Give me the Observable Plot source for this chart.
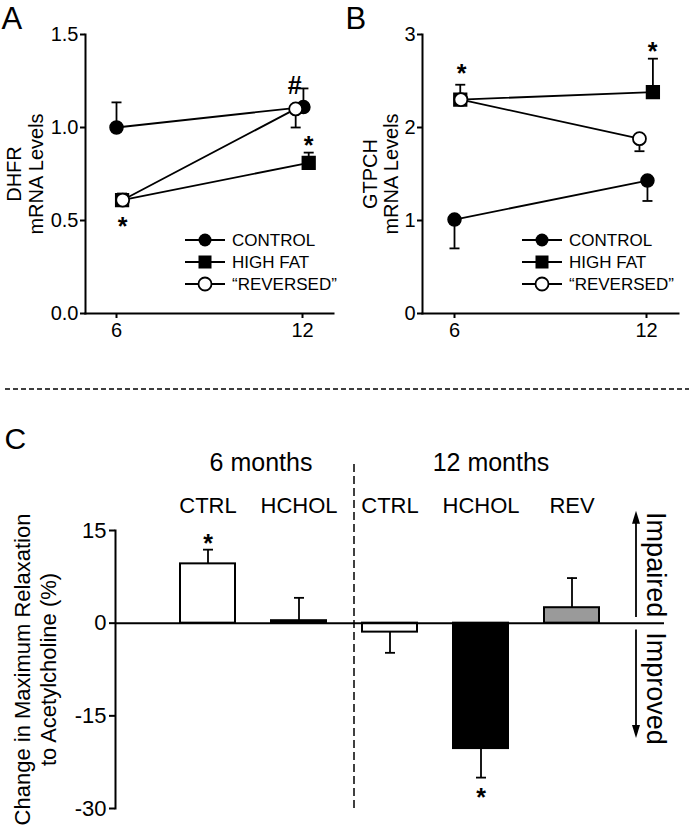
<!DOCTYPE html>
<html>
<head>
<meta charset="utf-8">
<script src="https://cdn.jsdelivr.net/npm/d3@7"></script>
<script src="https://cdn.jsdelivr.net/npm/@observablehq/plot@0.6"></script>
<style>
  body { margin: 0; background: #fff; }
  #fig { position: relative; width: 689px; height: 831px; overflow: hidden; background: #fff;
         font-family: "Liberation Sans", Arial, Helvetica, sans-serif; }
  .abs { position: absolute; }
</style>
</head>
<body>
<div id="fig">
  <div id="pA" class="abs" style="left:0;top:0"></div>
  <div id="pB" class="abs" style="left:340px;top:0"></div>
  <div id="sep" class="abs" style="left:0;top:380px"></div>
  <div id="pC" class="abs" style="left:0;top:395px"></div>
  <div id="legA" class="abs" style="left:0;top:0"></div>
  <div id="legB" class="abs" style="left:340px;top:0"></div>
</div>
<script>
// ---------------- DATA ----------------
const months = [6, 12];
const seriesNames = ["CONTROL", "HIGH FAT", "\u201CREVERSED\u201D"];

// Panel A: DHFR mRNA levels (signed error: + drawn up, - drawn down)
const dhfrControl = [1.00, 1.11];
const dhfrControlErr = [0.135, 0.10];
const dhfrHighFat = [0.61, 0.81];
const dhfrHighFatErr = [0.035, 0.055];
const dhfrReversed = [0.61, 1.10];
const dhfrReversedErr = [0, -0.10];

// Panel B: GTPCH mRNA levels
const gtpchControl = [1.01, 1.43];
const gtpchControlErr = [-0.31, -0.22];
const gtpchHighFat = [2.30, 2.38];
const gtpchHighFatErr = [0.16, 0.36];
const gtpchReversed = [2.30, 1.88];
const gtpchReversedErr = [0, -0.135];

// small horizontal dodge (months) used in the original to separate overlapping symbols
const dodgeControl = [0, 0.03];
const dodgeHighFat = [0.18, 0.2];
const dodgeReversed = [0.2, -0.22];

// Panel C: change in maximum relaxation to acetylcholine (%)
const cGroups = ["6 months", "6 months", "12 months", "12 months", "12 months"];
const cLabels = ["CTRL", "HCHOL", "CTRL", "HCHOL", "REV"];
const cValues = [9.6, 0.4, -1.45, -20.3, 2.5];
const cErr = [2.3, 3.7, -3.35, -4.7, 4.8];
const cSig = ["*", "", "", "*", ""];

const yTicksA = [0, 0.5, 1.0, 1.5];
const yTicksB = [0, 1, 2, 3];
const yTicksC = [-30, -15, 0, 15];

// annotations (significance marks)
const notesA = [
  { x: 12.2, y: 0.935, t: "*" },
  { x: 6.2, y: 0.495, t: "*" },
  { x: 11.75, y: 1.255, t: "#" }
];
const notesB = [
  { x: 6.22, y: 2.645, t: "*" },
  { x: 12.19, y: 2.88, t: "*" }
];

// ---------------- HELPERS ----------------
const FONT = '"Liberation Sans", Arial, Helvetica, sans-serif';
const capSymbol = { draw(ctx) { ctx.moveTo(-5, 0); ctx.lineTo(5, 0); } };
const arrowHead = { draw(ctx) { ctx.moveTo(0, 0); ctx.lineTo(4, 13); ctx.lineTo(-4, 13); ctx.closePath(); } };

function rows(name, vals, errs, dodge) {
  return months.map((m, i) => ({ series: name, x: m + dodge[i], y: vals[i], e: errs[i] }));
}

function yLabelMarks(lines, dxs, size) {
  return lines.map((t, i) => Plot.text([t], { frameAnchor: "left", dx: dxs[i], rotate: -90, fontSize: size, textAnchor: "middle", lineAnchor: "middle" }));
}

function makeLinePanel(o) {
  const data = [
    ...rows(seriesNames[0], o.control, o.controlErr, dodgeControl),
    ...rows(seriesNames[1], o.highFat, o.highFatErr, dodgeHighFat),
    ...rows(seriesNames[2], o.reversed, o.reversedErr, dodgeReversed)
  ];
  const err = data.filter(d => d.e !== 0);
  const bySeries = s => data.filter(d => d.series === s);
  return Plot.plot({
    width: o.width, height: 345,
    marginLeft: o.marginLeft, marginRight: o.marginRight, marginTop: 34, marginBottom: 32,
    style: { fontFamily: FONT, color: "#000", background: "#fff", overflow: "visible" },
    x: { domain: [5, 13], axis: null },
    y: { domain: o.yDomain, axis: null },
    marks: [
      Plot.axisX({ ticks: months, tickSize: 5, tickPadding: 4, strokeWidth: 2, fontSize: 20, tickFormat: d => String(d), label: null }),
      Plot.axisY({ ticks: o.yTicks, tickSize: 5, tickPadding: 2, strokeWidth: 2, fontSize: 20, tickFormat: o.tickFormat, label: null }),
      Plot.frame({ anchor: "left", strokeWidth: 2 }),
      Plot.frame({ anchor: "bottom", strokeWidth: 2 }),
      Plot.line(data, { x: "x", y: "y", z: "series", stroke: "#000", strokeWidth: 1.8 }),
      Plot.ruleX(err, { x: "x", y1: "y", y2: d => d.y + d.e, stroke: "#000", strokeWidth: 1.8 }),
      Plot.dot(err, { x: "x", y: d => d.y + d.e, symbol: capSymbol, fill: "none", stroke: "#000", strokeWidth: 1.8 }),
      Plot.dot(bySeries(seriesNames[0]), { x: "x", y: "y", r: 6.5, fill: "#000", stroke: "#000" }),
      Plot.dot(bySeries(seriesNames[1]), { x: "x", y: "y", symbol: "square", r: 7.2, fill: "#000", stroke: "#000" }),
      Plot.dot(bySeries(seriesNames[2]), { x: "x", y: "y", r: 6.5, fill: "#fff", stroke: "#000", strokeWidth: 1.8 }),
      Plot.text(o.notes, { x: "x", y: "y", text: "t", fontSize: 25, fontWeight: "bold", dy: 6 }),
      ...yLabelMarks(o.ylab, o.ylabDx, 20),
      Plot.text([o.letter], { frameAnchor: "top-left", dx: o.letterDx, dy: -6, fontSize: 31, lineAnchor: "bottom", textAnchor: "start" })
    ]
  });
}

document.getElementById("pA").appendChild(makeLinePanel({
  width: 340, marginLeft: 85, marginRight: 7, yDomain: [0, 1.5], yTicks: yTicksA, tickFormat: d3.format(".1f"),
  control: dhfrControl, controlErr: dhfrControlErr, highFat: dhfrHighFat, highFatErr: dhfrHighFatErr,
  reversed: dhfrReversed, reversedErr: dhfrReversedErr, notes: notesA,
  ylab: ["DHFR", "mRNA Levels"], ylabDx: [-71, -49], letter: "A", letterDx: -84
}));

document.getElementById("pB").appendChild(makeLinePanel({
  width: 349, marginLeft: 82, marginRight: 11, yDomain: [0, 3], yTicks: yTicksB, tickFormat: d => String(d),
  control: gtpchControl, controlErr: gtpchControlErr, highFat: gtpchHighFat, highFatErr: gtpchHighFatErr,
  reversed: gtpchReversed, reversedErr: gtpchReversedErr, notes: notesB,
  ylab: ["GTPCH", "mRNA Levels"], ylabDx: [-52, -31], letter: "B", letterDx: -77
}));

// Legends (drawn with d3)
function legend(el, x0, ys) {
  const svg = d3.select(el).append("svg").attr("width", 349).attr("height", 345)
    .style("overflow", "visible").style("font-family", FONT);
  seriesNames.forEach((name, i) => {
    const g = svg.append("g").attr("transform", `translate(${x0},${ys[i]})`);
    g.append("line").attr("x1", 0).attr("x2", 40).attr("stroke", "#000").attr("stroke-width", 1.8);
    if (i === 0) g.append("circle").attr("cx", 20).attr("r", 6.5).attr("fill", "#000");
    if (i === 1) g.append("rect").attr("x", 13.5).attr("y", -6.5).attr("width", 13).attr("height", 13).attr("fill", "#000");
    if (i === 2) g.append("circle").attr("cx", 20).attr("r", 6.5).attr("fill", "#fff").attr("stroke", "#000").attr("stroke-width", 1.8);
    g.append("text").attr("x", 47).attr("dy", "0.36em").attr("font-size", 17).text(name);
  });
}
legend(document.getElementById("legA"), 185, [240, 262, 284]);
legend(document.getElementById("legB"), 182, [240, 262, 284]);

// Dashed separator
d3.select("#sep").append("svg").attr("width", 689).attr("height", 10)
  .append("line").attr("x1", 5).attr("x2", 689).attr("y1", 5).attr("y2", 5)
  .attr("stroke", "#000").attr("stroke-width", 1.5).attr("stroke-dasharray", "5,3");

// Panel C
const cRows = cLabels.map((l, i) => ({ id: cGroups[i] + " " + l, group: cGroups[i], label: l, v: cValues[i], e: cErr[i], sig: cSig[i] }));
const ids = cRows.map(d => d.id);
const sigRows = cRows.filter(d => d.sig);

const plotC = Plot.plot({
  width: 689, height: 436,
  marginLeft: 115, marginRight: 25, marginTop: 135, marginBottom: 23,
  style: { fontFamily: FONT, color: "#000", background: "#fff", overflow: "visible" },
  x: { type: "band", domain: ids, paddingInner: 0.4, paddingOuter: 0.715, axis: null },
  y: { domain: [-30, 15], axis: null },
  color: { domain: ["CTRL", "HCHOL", "REV"], range: ["#ffffff", "#000000", "#9a9a9a"] },
  marks: [
    Plot.axisY({ ticks: yTicksC, tickSize: 6, tickPadding: 3, strokeWidth: 2, fontSize: 22, tickFormat: d => String(d), label: null }),
    Plot.frame({ anchor: "left", strokeWidth: 2 }),
    Plot.ruleX([ids[2]], { x: d => d, dx: -36, y1: -30, y2: 26.3, stroke: "#000", strokeWidth: 1.5, strokeDasharray: "8,4" }),
    Plot.ruleX(cRows, { x: "id", y1: "v", y2: d => d.v + d.e, stroke: "#000", strokeWidth: 1.8 }),
    Plot.dot(cRows, { x: "id", y: d => d.v + d.e, symbol: capSymbol, fill: "none", stroke: "#000", strokeWidth: 1.8 }),
    Plot.barY(cRows, { x: "id", y: "v", fill: "label", stroke: "#000", strokeWidth: 2 }),
    Plot.ruleY([0], { stroke: "#000", strokeWidth: 2 }),
    Plot.text(sigRows, { x: "id", y: d => d.v + d.e + (d.e > 0 ? 1.9 : -2.3), text: "sig", fontSize: 25, fontWeight: "bold", dy: 6 }),
    Plot.text(cRows, { x: "id", text: "label", frameAnchor: "top", dy: -18, lineAnchor: "bottom", fontSize: 22 }),
    Plot.text([cGroups[0]], { x: () => ids[0], frameAnchor: "top", dx: 53, dy: -60, lineAnchor: "bottom", fontSize: 25 }),
    Plot.text([cGroups[2]], { x: () => ids[3], frameAnchor: "top", dx: 10, dy: -60, lineAnchor: "bottom", fontSize: 25 }),
    // Impaired / Improved arrows
    Plot.ruleX([ids[4]], { x: d => d, dx: 64, y1: 0.9, y2: 17, stroke: "#000", strokeWidth: 1.8 }),
    Plot.ruleX([ids[4]], { x: d => d, dx: 64, y1: -1.1, y2: -17.4, stroke: "#000", strokeWidth: 1.8 }),
    Plot.dot([ids[4]], { x: d => d, y: 18.2, dx: 64, symbol: arrowHead, fill: "#000", stroke: "none" }),
    Plot.dot([ids[4]], { x: d => d, y: -18.6, dx: 64, symbol: arrowHead, rotate: 180, fill: "#000", stroke: "none" }),
    Plot.text(["Impaired"], { frameAnchor: "right", y: 0, dx: -9, dy: -6, rotate: 90, textAnchor: "end", lineAnchor: "middle", fontSize: 27 }),
    Plot.text(["Improved"], { frameAnchor: "right", y: 0, dx: -9, dy: 9, rotate: 90, textAnchor: "start", lineAnchor: "middle", fontSize: 27 }),
    // axis title and panel letter
    Plot.text(["Change in Maximum Relaxation"], { frameAnchor: "left", dx: -93, rotate: -90, fontSize: 22, textAnchor: "middle", lineAnchor: "middle" }),
    Plot.text(["to Acetylcholine (%)"], { frameAnchor: "left", dx: -67, rotate: -90, fontSize: 22, textAnchor: "middle", lineAnchor: "middle" }),
    Plot.text(["C"], { frameAnchor: "top-left", dx: -111, dy: -82, fontSize: 30, lineAnchor: "bottom", textAnchor: "start" })
  ]
});
document.getElementById("pC").appendChild(plotC);
</script>
</body>
</html>
